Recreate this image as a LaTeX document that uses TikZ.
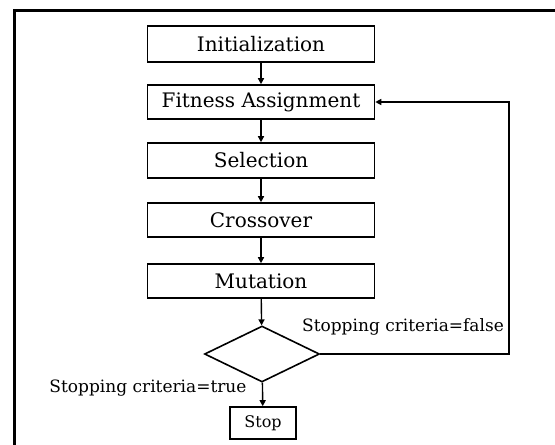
\documentclass[tikz,border=0pt]{standalone}
\usepackage{fontspec}
\setmainfont{DejaVu Serif}
\usetikzlibrary{shapes.geometric,arrows.meta}
\begin{document}
\begin{tikzpicture}[x=1pt,y=-1pt,
  stepbox/.style={draw,line width=1.6pt,minimum width=227pt,minimum height=34pt,inner sep=0pt,font=\fontsize{20}{22}\selectfont},
  flow/.style={line width=1.4pt,-{Triangle[length=6pt,width=6pt]}},
  lbl/.style={inner sep=0pt,font=\fontsize{17}{19}\selectfont}]
\useasboundingbox (0,0) rectangle (555,445);
\draw[line width=3pt] (14,470) -- (14,10) -- (580,10);
\node[stepbox,minimum height=36pt] (init) at (261,44) {Initialization};
\node[stepbox] (fit) at (261,102) {Fitness Assignment};
\node[stepbox,minimum height=35pt] (sel) at (261,160.5) {Selection};
\node[stepbox] (cross) at (261,220) {Crossover};
\node[stepbox] (mut) at (261,281) {Mutation};
\node[draw,diamond,line width=1.6pt,minimum width=115pt,minimum height=56pt,inner sep=0pt] (dec) at (262,354) {};
\node[stepbox,minimum width=66pt,minimum height=32pt,font=\fontsize{16}{18}\selectfont] (stop) at (263,423) {Stop};
\coordinate (c1) at (509,354);
\coordinate (c2) at (509,102);
\draw[flow] (init) -- (fit);
\draw[flow] (fit) -- (sel);
\draw[flow] (sel) -- (cross);
\draw[flow] (cross) -- (mut);
\draw[flow] (mut) -- (dec);
\draw[flow] (dec) -- (stop);
\draw[flow] (dec.east) -- (c1) -- (c2) -- (fit.east);
\node[lbl] (lf) at (403,327) {Stopping criteria=false};
\node[lbl] (lt) at (148,388) {Stopping criteria=true};
\end{tikzpicture}
\end{document}
